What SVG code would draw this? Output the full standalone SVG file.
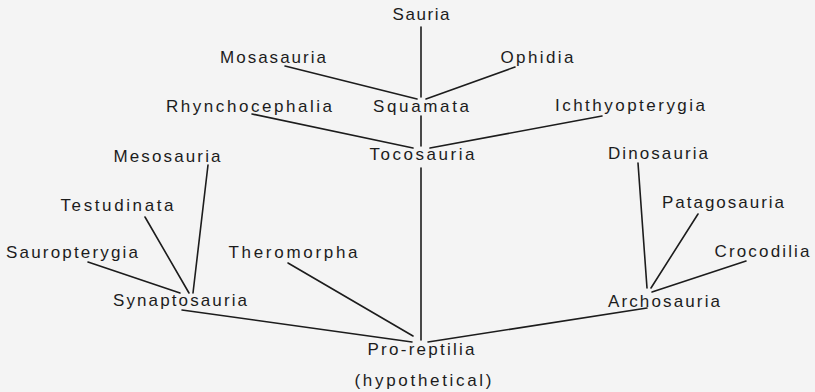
<svg xmlns="http://www.w3.org/2000/svg" width="815" height="392" viewBox="0 0 815 392">
<style>
.bg{fill:#f4f4f4}
text{font-family:"Liberation Sans","DejaVu Sans",sans-serif;font-size:17px;fill:#1c1c1c;text-anchor:middle}
.e{stroke:#1c1c1c;stroke-width:1.6;fill:none;stroke-linecap:round}
</style>
<rect class="bg" x="0" y="0" width="815" height="392"/>
<g id="connectors">
<line class="e" x1="421" y1="27" x2="421" y2="97"/>
<line class="e" x1="285" y1="66" x2="417" y2="99"/>
<line class="e" x1="515" y1="67" x2="426" y2="99"/>
<line class="e" x1="421" y1="116" x2="421" y2="146"/>
<line class="e" x1="252" y1="114" x2="413" y2="148"/>
<line class="e" x1="602" y1="116" x2="430" y2="148"/>
<line class="e" x1="421" y1="168" x2="421" y2="340"/>
<line class="e" x1="288" y1="263" x2="413" y2="336"/>
<line class="e" x1="182" y1="310" x2="412" y2="342"/>
<line class="e" x1="647" y1="308" x2="428" y2="342"/>
<line class="e" x1="88" y1="262" x2="180" y2="293"/>
<line class="e" x1="145" y1="217" x2="189" y2="293"/>
<line class="e" x1="208" y1="165" x2="193" y2="293"/>
<line class="e" x1="638" y1="163" x2="647" y2="288"/>
<line class="e" x1="698" y1="214" x2="651" y2="288"/>
<line class="e" x1="746" y1="261" x2="652" y2="292"/>
</g>
<g id="sauria"><text x="421" y="20" textLength="57" lengthAdjust="spacing">Sauria</text></g>
<g id="mosasauria"><text x="273" y="63" textLength="106" lengthAdjust="spacing">Mosasauria</text></g>
<g id="ophidia"><text x="537" y="63" textLength="73" lengthAdjust="spacing">Ophidia</text></g>
<g id="squamata"><text x="421" y="112" textLength="96" lengthAdjust="spacing">Squamata</text></g>
<g id="rhynchocephalia"><text x="249" y="112" textLength="166" lengthAdjust="spacing">Rhynchocephalia</text></g>
<g id="ichthyopterygia"><text x="630" y="111" textLength="150" lengthAdjust="spacing">Ichthyopterygia</text></g>
<g id="tocosauria"><text x="422" y="160" textLength="105" lengthAdjust="spacing">Tocosauria</text></g>
<g id="mesosauria"><text x="167" y="162" textLength="107" lengthAdjust="spacing">Mesosauria</text></g>
<g id="testudinata"><text x="117" y="211" textLength="113" lengthAdjust="spacing">Testudinata</text></g>
<g id="sauropterygia"><text x="72" y="258" textLength="132" lengthAdjust="spacing">Sauropterygia</text></g>
<g id="theromorpha"><text x="293" y="258" textLength="129" lengthAdjust="spacing">Theromorpha</text></g>
<g id="synaptosauria"><text x="180" y="306" textLength="134" lengthAdjust="spacing">Synaptosauria</text></g>
<g id="dinosauria"><text x="658" y="159" textLength="100" lengthAdjust="spacing">Dinosauria</text></g>
<g id="patagosauria"><text x="723" y="208" textLength="122" lengthAdjust="spacing">Patagosauria</text></g>
<g id="crocodilia"><text x="762" y="257" textLength="95" lengthAdjust="spacing">Crocodilia</text></g>
<g id="archosauria"><text x="664" y="307" textLength="112" lengthAdjust="spacing">Archosauria</text></g>
<g id="proreptilia"><text x="421" y="355" textLength="107" lengthAdjust="spacing">Pro-reptilia</text><text x="423" y="386" textLength="137" lengthAdjust="spacing">(hypothetical)</text></g>
</svg>
